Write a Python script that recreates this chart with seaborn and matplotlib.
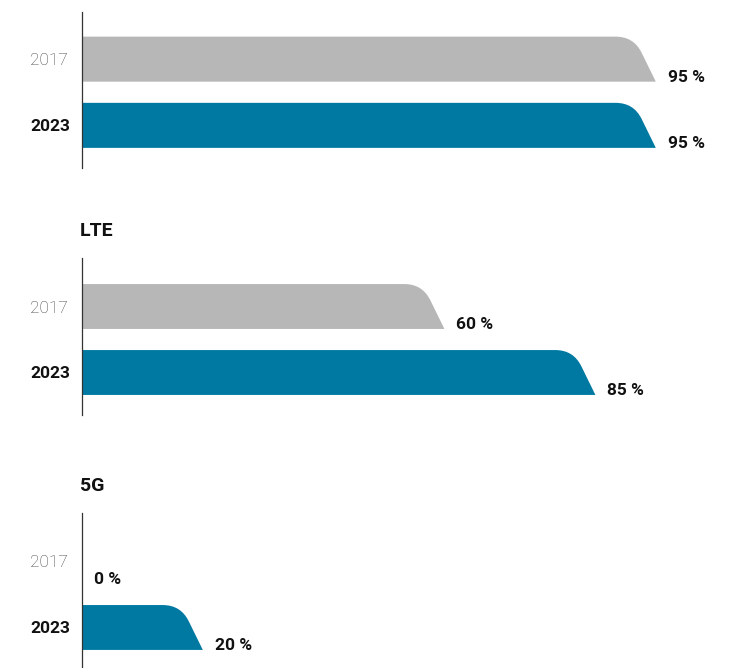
import matplotlib
matplotlib.use("Agg")
import matplotlib.pyplot as plt
import seaborn as sns
import pandas as pd
import numpy as np
from matplotlib.path import Path
from matplotlib.patches import PathPatch

# ---- data ----
years = ["2017", "2023"]
panel_titles = ["", "LTE", "5G"]
coverage_panel1 = [95, 95]
coverage_lte = [60, 85]
coverage_5g = [0, 20]
panel_values = [coverage_panel1, coverage_lte, coverage_5g]

GRAY = "#b6b7b6"
TEAL = "#0079a2"

sns.set_style("white")
plt.rcParams["font.family"] = ["Roboto", "DejaVu Sans"]

W, H = 735, 668
fig = plt.figure(figsize=(W / 100, H / 100), dpi=100)

# pixel geometry of the three panels (top, bottom of the axis line)
panel_px = [(12, 168), (258, 415), (513, 668)]
top_margin_units = [0.712, 0.735, 0.735]
bot_margin_units = [0.644, 0.644, 0.614]
left_px = 82
px_per_pct = 6.04
xmax = (W - left_px) / px_per_pct


def flag_path(ax, x0, x1, y_top, y_bot):
    A = ax.transData.transform((x0, y_top))
    B = ax.transData.transform((x1, y_bot))
    left, top = A
    xe, bottom = B
    h = top - bottom
    cx = xe - 0.49 * h
    u = np.array([0.49 * h, -h])
    u = u / np.linalg.norm(u)
    r = 18.0
    p_start = (cx - r, top)
    p_end = (cx + r * u[0], top + r * u[1])
    verts = [(left, top), p_start, (cx, top), p_end, (xe, bottom),
             (left, bottom), (left, top)]
    codes = [Path.MOVETO, Path.LINETO, Path.CURVE3, Path.CURVE3,
             Path.LINETO, Path.LINETO, Path.CLOSEPOLY]
    inv = ax.transData.inverted()
    dverts = inv.transform(np.array(verts))
    return Path(dverts, codes)


for i, (title, vals) in enumerate(zip(panel_titles, panel_values)):
    ptop, pbot = panel_px[i]
    ax = fig.add_axes([left_px / W, (H - pbot) / H, (W - left_px) / W, (pbot - ptop) / H])
    df = pd.DataFrame({"year": years, "value": vals})
    sns.barplot(data=df, x="value", y="year", hue="year", palette=[GRAY, TEAL],
                saturation=1, legend=False, width=0.68, ax=ax, orient="h",
                linewidth=0)
    ax.set_xlim(0, xmax)
    ax.set_ylim(1 + bot_margin_units[i], -top_margin_units[i])
    ax.set_xlabel("")
    ax.set_ylabel("")
    ax.set_xticks([])
    for s in ["top", "right", "bottom"]:
        ax.spines[s].set_visible(False)
    ax.spines["left"].set_color("#333333")
    ax.spines["left"].set_linewidth(0.9)
    ax.patch.set_alpha(0)

    ax.tick_params(axis="y", length=0, pad=37.5)
    for lab in ax.get_yticklabels():
        lab.set_horizontalalignment("left")
        if lab.get_text() == "2017":
            lab.set_color("#444444")
            lab.set_fontweight("light")
            lab.set_fontsize(12.5)
        else:
            lab.set_color("#111111")
            lab.set_fontweight("bold")
            lab.set_fontsize(12.5)

    fig.canvas.draw()
    patches = list(ax.patches)
    for p in patches:
        x0 = p.get_x()
        wdt = p.get_width()
        y_top = p.get_y()
        y_bot = p.get_y() + p.get_height()
        color = p.get_facecolor()
        p.set_visible(False)
        if wdt > 0:
            fp = PathPatch(flag_path(ax, x0, x0 + wdt, y_top, y_bot),
                           facecolor=color, edgecolor="none", lw=0)
            ax.add_patch(fp)
        ax.annotate(f"{wdt:.0f} %", xy=(x0 + wdt, y_bot), xytext=(8.5, 0),
                    textcoords="offset points", va="baseline", ha="left",
                    fontsize=12.5, fontweight="bold", color="#111111")

    if title:
        ax.set_title(title, loc="left", x=-0.003, pad=15.5, fontsize=14,
                     fontweight="bold", color="#111111")

fig.savefig("out.png", dpi=100)
